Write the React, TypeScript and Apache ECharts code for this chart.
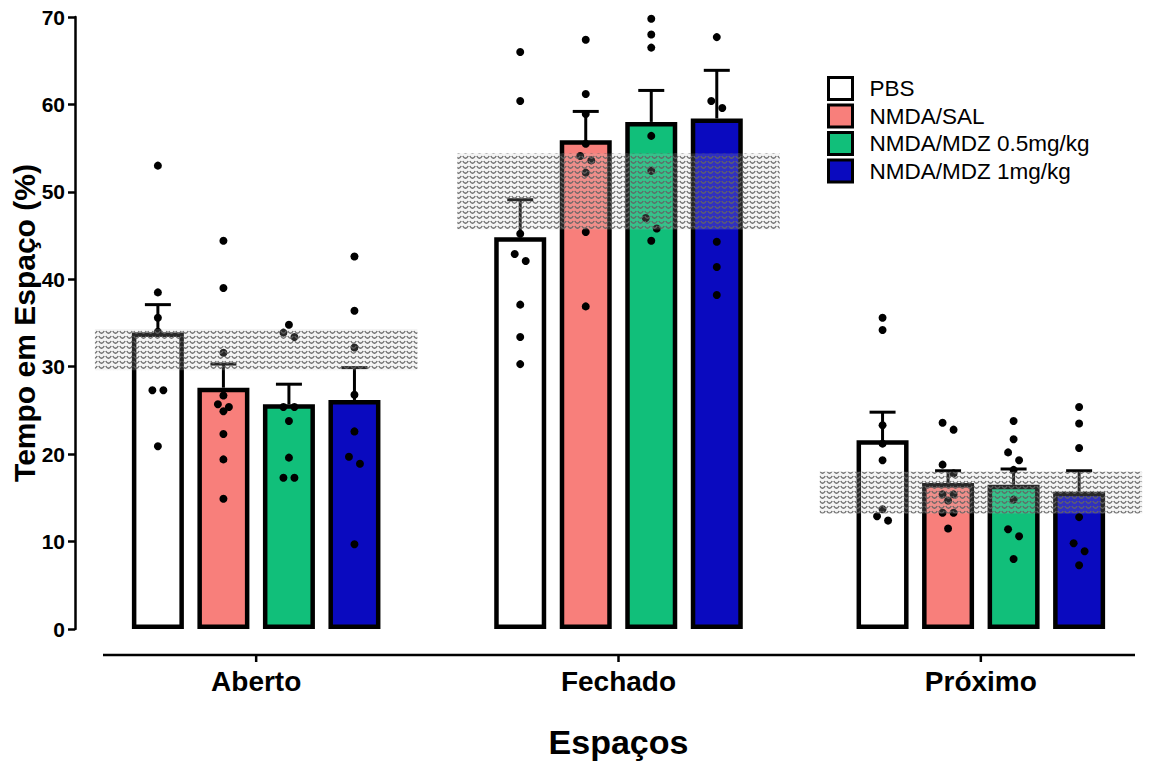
import { useEffect, useRef } from "react";
import * as echarts from "echarts";

// Spaces (x categories) and treatment groups
const CATEGORIES = ["Aberto", "Fechado", "Próximo"];
const GROUPS = ["PBS", "NMDA/SAL", "NMDA/MDZ 0.5mg/kg", "NMDA/MDZ 1mg/kg"];
const COLORS = ["#FFFFFF", "#F87F7B", "#11BF7A", "#0A0ABF"];

// Y axis ticks
const Y_MIN = 0;
const Y_MAX = 70;
const Y_STEP = 10;

// Mean time (%) per space: Aberto, Fechado, Próximo
const PBS_MEAN = [33.9, 44.8, 21.6];
const SAL_MEAN = [27.6, 55.9, 16.7];
const MDZ05_MEAN = [25.7, 58.0, 16.5];
const MDZ1_MEAN = [26.2, 58.4, 15.7];

// Standard error of the mean
const PBS_SEM = [3.2, 4.3, 3.2];
const SAL_SEM = [2.7, 3.3, 1.4];
const MDZ05_SEM = [2.3, 3.6, 1.8];
const MDZ1_SEM = [3.7, 5.5, 2.4];

// Individual animals
const PBS_POINTS = [
  [53.0, 38.5, 35.6, 34.0, 27.3, 27.3, 20.9],
  [66.0, 60.4, 45.2, 42.9, 42.1, 37.1, 33.4, 30.3],
  [35.6, 34.2, 23.3, 21.2, 19.3, 13.7, 12.9, 12.4],
];
const SAL_POINTS = [
  [44.4, 39.0, 31.6, 26.7, 25.7, 25.4, 24.9, 22.3, 19.4, 14.9],
  [67.4, 61.2, 58.9, 55.5, 54.1, 53.6, 52.2, 45.4, 36.9],
  [23.6, 22.8, 18.8, 17.8, 15.4, 15.4, 14.7, 13.3, 13.3, 11.5],
];
const MDZ05_POINTS = [
  [34.8, 33.9, 33.4, 25.4, 25.4, 23.8, 19.6, 17.3, 17.3],
  [69.8, 68.0, 66.5, 56.4, 52.4, 47.0, 45.8, 44.4],
  [23.8, 21.7, 20.2, 19.3, 18.2, 14.8, 11.4, 10.6, 8.0],
];
const MDZ1_POINTS = [
  [42.6, 36.4, 32.2, 26.8, 22.6, 19.7, 18.9, 9.7],
  [67.7, 60.4, 59.6, 44.3, 41.4, 38.2],
  [25.4, 23.5, 20.7, 12.8, 9.8, 8.9, 7.3],
];

// Shaded reference range for each space
const BAND_LOW = [29.6, 45.7, 13.2];
const BAND_HIGH = [34.3, 54.4, 18.0];

const MEANS = [PBS_MEAN, SAL_MEAN, MDZ05_MEAN, MDZ1_MEAN];
const SEMS = [PBS_SEM, SAL_SEM, MDZ05_SEM, MDZ1_SEM];
const POINTS = [PBS_POINTS, SAL_POINTS, MDZ05_POINTS, MDZ1_POINTS];

const FONT = "'Liberation Sans', Arial, Helvetica, sans-serif";
const BAR_WIDTH = 52;
const BAR_GAP = 0.26;
const BAR_STEP = BAR_WIDTH * (1 + BAR_GAP);
const DOT_SPREAD = 11;
const CAP_HALF = 13;
const X_AXIS_OFFSET = 26;

// Spread near-equal points sideways in pairs (lower value to the right)
function swarmSlots(values: number[], tol: number): number[] {
  const order = values.map((_, i) => i).sort((a, b) => values[a] - values[b]);
  const slots = new Array(values.length).fill(0);
  let k = 0;
  while (k < order.length) {
    const a = order[k];
    const b = order[k + 1];
    const c = order[k + 2];
    if (b !== undefined) {
      const d1 = values[b] - values[a];
      const d2 = c !== undefined ? values[c] - values[b] : Infinity;
      if (d1 < tol && !(d2 < d1)) {
        slots[a] = 0.5;
        slots[b] = -0.5;
        k += 2;
        continue;
      }
    }
    k += 1;
  }
  return slots;
}

// Small tile of grey "u" marks used to texture the reference ranges
function makeHatch(): string {
  const c = document.createElement("canvas");
  c.width = 7;
  c.height = 5;
  const ctx = c.getContext("2d");
  if (ctx) {
    ctx.fillStyle = "rgba(200,200,200,0.2)";
    ctx.fillRect(0, 0, 7, 5);
    ctx.strokeStyle = "rgba(100,100,100,0.95)";
    ctx.lineWidth = 1.4;
    ctx.beginPath();
    ctx.moveTo(0.8, 1.0);
    ctx.quadraticCurveTo(3.5, 5.4, 6.2, 1.0);
    ctx.stroke();
  }
  return c.toDataURL();
}

export default function App() {
  const ref = useRef<HTMLDivElement>(null);

  useEffect(() => {
    if (!ref.current) return;
    const chart = echarts.init(ref.current, undefined, { renderer: "svg" });
    const hatch = makeHatch();

    const barSeries = GROUPS.map((name, i) => ({
      type: "bar",
      name,
      data: MEANS[i],
      barWidth: BAR_WIDTH,
      barGap: `${BAR_GAP * 100}%`,
      itemStyle: { color: COLORS[i], borderColor: "#000", borderWidth: 4.5 },
      z: 2,
    }));

    const errorSeries = GROUPS.map((_, i) => ({
      type: "custom",
      id: `err-${i}`,
      data: MEANS[i].map((m, c) => [c, m, m + SEMS[i][c]]),
      encode: { x: 0, y: [1, 2] },
      z: 3,
      renderItem: (_p: any, api: any) => {
        const cat = api.value(0);
        const x = api.coord([cat, 0])[0] + (i - 1.5) * BAR_STEP;
        const yMean = api.coord([cat, api.value(1)])[1];
        const yTop = api.coord([cat, api.value(2)])[1];
        const style = { stroke: "#000", lineWidth: 3 };
        return {
          type: "group",
          children: [
            { type: "line", shape: { x1: x, y1: yMean, x2: x, y2: yTop }, style },
            { type: "line", shape: { x1: x - CAP_HALF, y1: yTop, x2: x + CAP_HALF, y2: yTop }, style },
          ],
        };
      },
    }));

    const dotSeries = GROUPS.map((_, i) => {
      const data: number[][] = [];
      POINTS[i].forEach((vals, c) => {
        const slots = swarmSlots(vals, 1.3);
        vals.forEach((v, k) => data.push([c, v, slots[k]]));
      });
      return {
        type: "custom",
        id: `dots-${i}`,
        data,
        encode: { x: 0, y: 1 },
        z: 4,
        renderItem: (_p: any, api: any) => {
          const pt = api.coord([api.value(0), api.value(1)]);
          return {
            type: "circle",
            shape: { cx: pt[0] + (i - 1.5) * BAR_STEP + api.value(2) * DOT_SPREAD, cy: pt[1], r: 4 },
            style: { fill: "#000" },
          };
        },
      };
    });

    const bandSeries = {
      type: "custom",
      id: "bands",
      data: CATEGORIES.map((_, c) => [c, BAND_LOW[c], BAND_HIGH[c]]),
      encode: { x: 0, y: [1, 2] },
      z: 6,
      renderItem: (_p: any, api: any) => {
        const cat = api.value(0);
        const w = api.size([1, 0])[0] * 0.89;
        const cx = api.coord([cat, 0])[0];
        const yLow = api.coord([cat, api.value(1)])[1];
        const yHigh = api.coord([cat, api.value(2)])[1];
        return {
          type: "rect",
          shape: { x: cx - w / 2, y: yHigh, width: w, height: yLow - yHigh },
          style: {
            fill: { image: hatch, repeat: "repeat", imageWidth: 7, imageHeight: 5 },
          },
        };
      },
    };

    // Category ticks under the detached x axis line
    const tickSeries = {
      type: "custom",
      id: "x-ticks",
      data: CATEGORIES.map((_, c) => [c, 0]),
      encode: { x: 0, y: 1 },
      clip: false,
      z: 10,
      renderItem: (_p: any, api: any) => {
        const pt = api.coord([api.value(0), 0]);
        const y = pt[1] + X_AXIS_OFFSET;
        return {
          type: "line",
          shape: { x1: pt[0], y1: y, x2: pt[0], y2: y + 7 },
          style: { stroke: "#000", lineWidth: 2.5 },
        };
      },
    };

    chart.setOption({
      animation: false,
      backgroundColor: "#fff",
      textStyle: { fontFamily: FONT },
      grid: { left: 75, right: 11, top: 17, bottom: 135, outerBoundsMode: "none", containLabel: false },
      legend: {
        data: GROUPS,
        orient: "vertical",
        left: 822,
        top: 71,
        icon: "rect",
        itemWidth: 24,
        itemHeight: 22,
        itemGap: 2.5,
        itemStyle: { borderColor: "#000", borderWidth: 3 },
        textStyle: { fontFamily: FONT, fontSize: 22.5, color: "#000", padding: [0, 0, 0, 12] },
        selectedMode: false,
      },
      xAxis: {
        type: "category",
        data: CATEGORIES,
        offset: X_AXIS_OFFSET,
        axisLine: { show: false },
        axisTick: { show: false },
        axisLabel: { fontFamily: FONT, fontSize: 28, fontWeight: "bold", color: "#000", margin: 12 },
        name: "Espaços",
        nameLocation: "middle",
        nameGap: 70,
        nameTextStyle: { fontFamily: FONT, fontSize: 34, fontWeight: "bold", color: "#000", verticalAlign: "top" },
      },
      yAxis: {
        type: "value",
        min: Y_MIN,
        max: Y_MAX,
        interval: Y_STEP,
        splitLine: { show: false },
        axisLine: { show: true, lineStyle: { color: "#000", width: 2.5 } },
        axisTick: { show: true, length: 7, lineStyle: { color: "#000", width: 2.5 } },
        axisLabel: { fontFamily: FONT, fontSize: 21, fontWeight: "bold", color: "#000", margin: 10 },
        name: "Tempo em Espaço (%)",
        nameLocation: "middle",
        nameGap: 36,
        nameMoveOverlap: false,
        nameTextStyle: { fontFamily: FONT, fontSize: 30, fontWeight: "bold", color: "#000" },
      },
      graphic: [
        {
          type: "line",
          shape: { x1: 103, y1: 655, x2: 1135, y2: 655 },
          style: { stroke: "#000", lineWidth: 2.5 },
          z: 10,
        },
      ],
      series: [...barSeries, ...errorSeries, ...dotSeries, bandSeries, tickSeries],
    });

    return () => chart.dispose();
  }, []);

  return (
    <div
      ref={ref}
      style={{ position: "fixed", left: 0, top: 0, width: 1173, height: 764, background: "#fff" }}
    />
  );
}
